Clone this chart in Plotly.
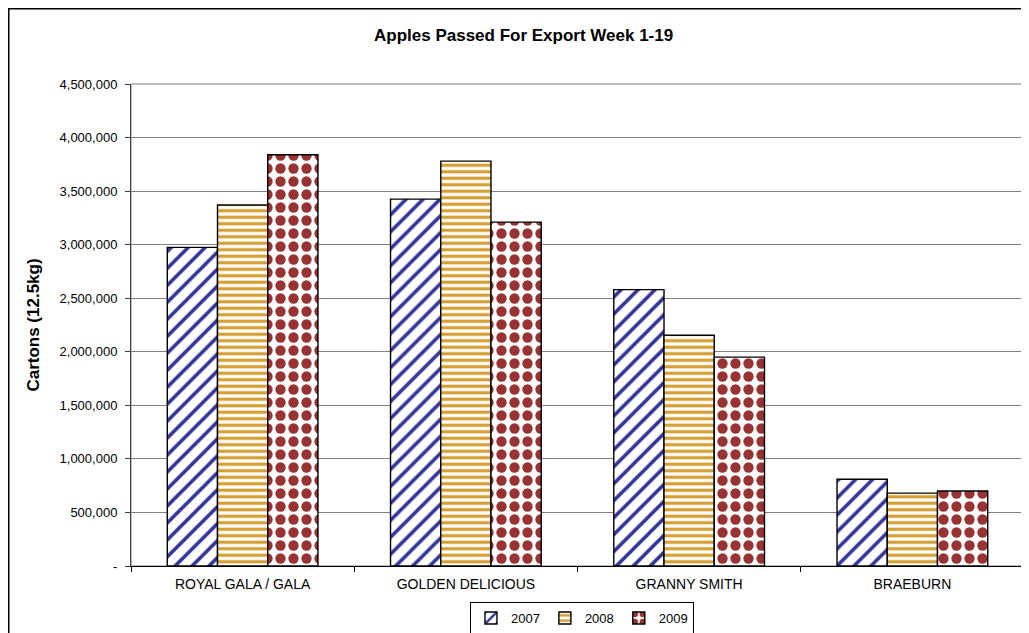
import plotly.graph_objects as go

categories = ["ROYAL GALA / GALA", "GOLDEN DELICIOUS", "GRANNY SMITH", "BRAEBURN"]
years = ["2007", "2008", "2009"]
values_2007 = [2975000, 3425000, 2580000, 810000]
values_2008 = [3370000, 3780000, 2155000, 680000]
values_2009 = [3840000, 3210000, 1950000, 700000]
tick_vals = [0, 500000, 1000000, 1500000, 2000000, 2500000, 3000000, 3500000, 4000000, 4500000]
tick_text = ["-", "500,000", "1,000,000", "1,500,000", "2,000,000", "2,500,000",
             "3,000,000", "3,500,000", "4,000,000", "4,500,000"]

series = [values_2007, values_2008, values_2009]
patterns = [
    dict(shape="/", fgcolor="#333399", bgcolor="white", size=12, solidity=0.3,
         fillmode="replace", fgopacity=1),
    dict(shape="-", fgcolor="#D4A033", bgcolor="white", size=6.5, solidity=0.5,
         fillmode="replace", fgopacity=1),
    dict(shape=".", fgcolor="#993333", bgcolor="white", size=13, solidity=0.5,
         fillmode="replace", fgopacity=1),
]

W, H = 1021, 625  # page adds an 8px body margin

fig = go.Figure()
for name, vals, pat in zip(years, series, patterns):
    fig.add_trace(go.Bar(
        name=name, x=categories, y=vals,
        marker=dict(color="white", pattern=pat, line=dict(color="black", width=1.4)),
    ))

fig.update_layout(
    width=W, height=H,
    paper_bgcolor="white", plot_bgcolor="white",
    margin=dict(l=123, r=5, t=76, b=67, autoexpand=False),
    barmode="group", bargap=0.325, bargroupgap=0,
    font=dict(family="Liberation Sans, Arial, sans-serif", size=13, color="black"),
    title=dict(text="<b>Apples Passed For Export Week 1-19</b>", x=0.505, xref="container",
               y=1 - 27 / H, yref="container", yanchor="middle", font=dict(size=17)),
    showlegend=True,
    legend=dict(orientation="h", x=0.505, xanchor="center",
                yref="container", y=1 - 610 / H, yanchor="middle",
                bordercolor="black", borderwidth=1, font=dict(size=13),
                itemwidth=30, tracegroupgap=0),
)

fig.update_yaxes(
    range=[0, 4500000], tickvals=tick_vals, ticktext=tick_text,
    showgrid=True, gridcolor="#808080", gridwidth=1,
    showline=True, linecolor="#404040", linewidth=1,
    ticks="outside", ticklen=5, tickcolor="#404040", ticklabelstandoff=5,
    title=dict(text="<b>Cartons (12.5kg)</b>", font=dict(size=17), standoff=15),
    tickfont=dict(size=13), zeroline=False, automargin=False,
)
fig.update_xaxes(
    showline=True, linecolor="black", linewidth=1,
    ticks="outside", ticklen=5, tickson="boundaries", tickcolor="black",
    ticklabelstandoff=5,
    tickfont=dict(size=14), automargin=False,
)

# plot area gray border (top/right)
fig.add_shape(type="rect", xref="paper", yref="paper", x0=0, x1=1, y0=0, y1=1,
              line=dict(color="#808080", width=1), layer="below")
# outer chart border (left and top edges visible; right/bottom run off the page)
fig.add_shape(type="line", xref="paper", yref="paper",
              x0=-123 / 893, x1=-123 / 893, y0=-0.3, y1=(558) / 482,
              line=dict(color="black", width=3))
fig.add_shape(type="line", xref="paper", yref="paper",
              x0=-123 / 893, x1=1.05, y0=558 / 482, y1=558 / 482,
              line=dict(color="black", width=3))

fig.write_html("out.html")
